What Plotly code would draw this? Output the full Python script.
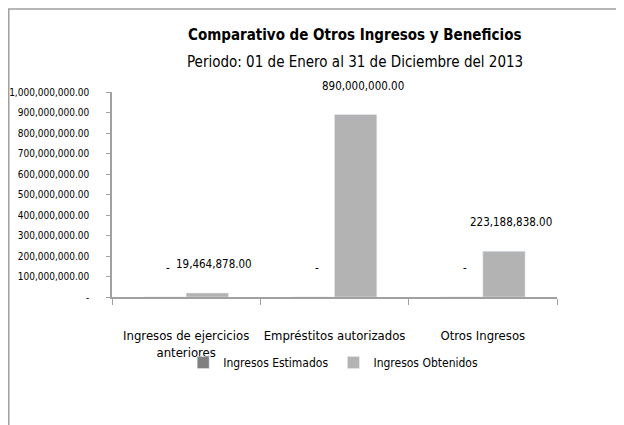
import plotly.graph_objects as go

categorias = ["Ingresos de ejercicios<br>anteriores", "Empréstitos autorizados", "Otros Ingresos"]
estimados = [0, 0, 0]
obtenidos = [19464878.00, 890000000.00, 223188838.00]

ticks_y = [0, 100e6, 200e6, 300e6, 400e6, 500e6, 600e6, 700e6, 800e6, 900e6, 1000e6]
ticks_txt = ["-"] + ["{:,.2f}".format(v) for v in ticks_y[1:]]

FONT = "DejaVu Sans Condensed, Liberation Sans Narrow, Arial Narrow, sans-serif"


def etiqueta(v):
    return "-" if v == 0 else "{:,.2f}".format(v)


fig = go.Figure()
fig.add_trace(go.Bar(x=categorias, y=estimados, name="Ingresos Estimados",
                     marker=dict(color="#808080")))
fig.add_trace(go.Bar(x=categorias, y=obtenidos, name="Ingresos Obtenidos",
                     marker=dict(color="#b3b3b3")))

# etiquetas de datos encima de cada barra
for serie, desplaz in [(estimados, -18), (obtenidos, 28)]:
    for cat, v in zip(categorias, serie):
        fig.add_annotation(x=cat, y=v, text=etiqueta(v), showarrow=False,
                           xshift=desplaz, yshift=29, yanchor="middle",
                           font=dict(size=11.5, color="black", family=FONT))

# marco del grafico
fig.add_shape(type="rect", xref="paper", yref="paper",
              x0=-0.232, x1=1.3, y0=-0.8, y1=1.405,
              line=dict(color="#a0a0a0", width=1.5), layer="below")

fig.add_annotation(text="<b>Comparativo de Otros Ingresos y Beneficios</b>",
                   xref="paper", yref="paper", x=0.546, y=1.278, showarrow=False,
                   xanchor="center", yanchor="middle",
                   font=dict(size=15, color="black", family=FONT))
fig.add_annotation(text="Periodo: 01 de Enero al 31 de Diciembre del 2013",
                   xref="paper", yref="paper", x=0.546, y=1.146, showarrow=False,
                   xanchor="center", yanchor="middle",
                   font=dict(size=15, color="black", family=FONT))

fig.update_layout(
    width=616, height=417,
    margin=dict(l=104, r=67, t=84, b=128),
    paper_bgcolor="white", plot_bgcolor="white",
    font=dict(family=FONT, color="black", size=12),
    barmode="group", bargap=0.43, bargroupgap=0,
    showlegend=True,
    legend=dict(orientation="h", x=0.16, y=-0.32, xanchor="left", yanchor="middle",
                font=dict(size=12), bgcolor="rgba(0,0,0,0)", itemwidth=30),
)

fig.update_xaxes(showline=True, linecolor="#a0a0a0", linewidth=1.5,
                 ticks="outside", tickson="boundaries", ticklen=6, tickcolor="#a0a0a0",
                 tickangle=0, automargin=False,
                 ticklabelstandoff=26, tickfont=dict(size=13), showgrid=False)
fig.update_yaxes(range=[0, 1e9], tickvals=ticks_y, ticktext=ticks_txt,
                 showline=True, linecolor="#a0a0a0", linewidth=1.5,
                 ticks="outside", ticklen=4, tickcolor="#a0a0a0", automargin=False,
                 ticklabelstandoff=15, tickfont=dict(size=10),
                 showgrid=False, zeroline=False)

fig.write_html("out.html")
